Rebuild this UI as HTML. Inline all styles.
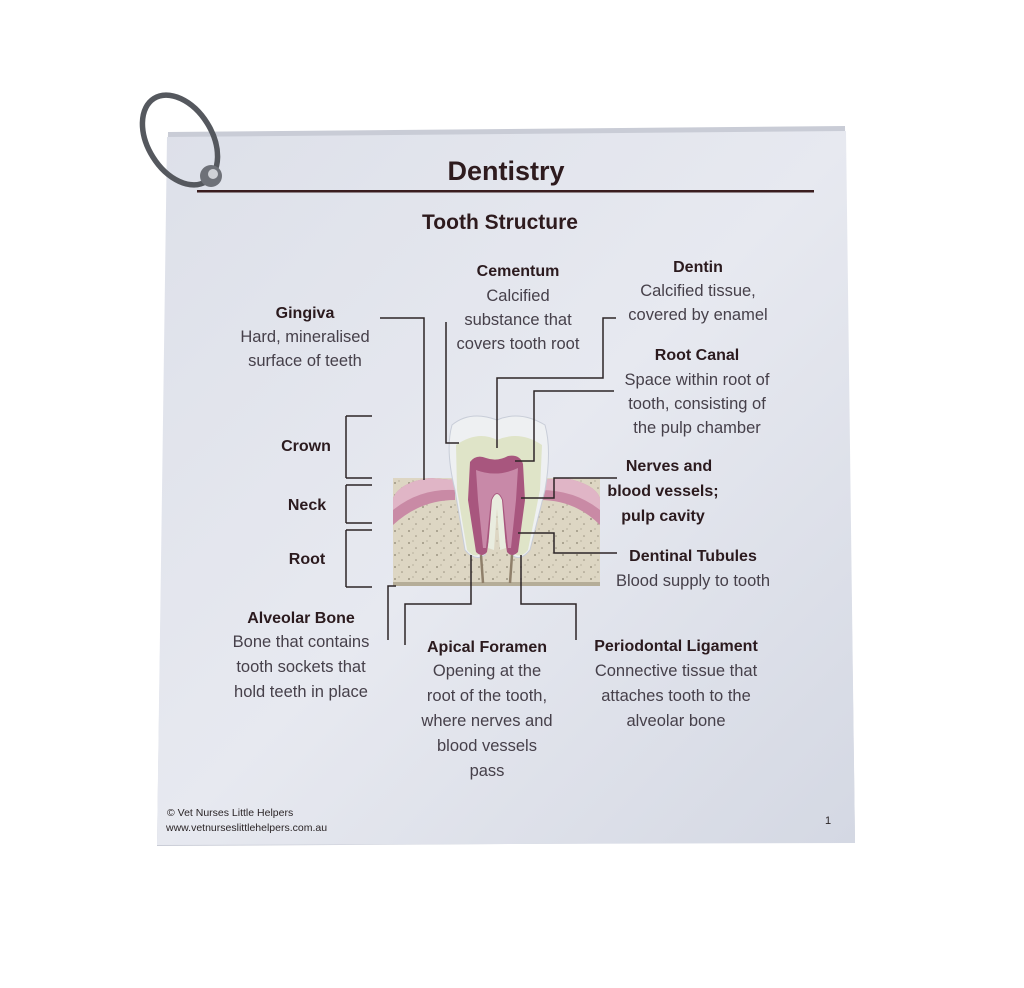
<!DOCTYPE html>
<html><head><meta charset="utf-8"><style>
html,body{margin:0;padding:0;background:#fff;width:1024px;height:988px;overflow:hidden}
svg{display:block}
text{font-family:"Liberation Sans",sans-serif}
.b{font-weight:bold;fill:#2b1a1e;font-size:16px}
.t{fill:#46404a;font-size:16.5px}
</style></head><body>
<svg width="1024" height="988" viewBox="0 0 1024 988">
<defs>
<linearGradient id="cg" x1="0" y1="0" x2="1" y2="1">
<stop offset="0" stop-color="#dde0e9"/><stop offset="0.5" stop-color="#e7e9f0"/><stop offset="1" stop-color="#d4d8e3"/>
</linearGradient>
<pattern id="dots" width="14" height="12" patternUnits="userSpaceOnUse">
<rect width="14" height="12" fill="#ddd6c3"/>
<circle cx="3" cy="3" r="0.9" fill="#8a8270"/><circle cx="10" cy="8" r="0.8" fill="#9a9280"/><circle cx="7" cy="1" r="0.6" fill="#a09885"/>
</pattern>
</defs>
<polygon points="168,132 845,126 855,842 157,846" fill="#c9ccd6"/>
<polygon points="167,137 846,131 855,843 157,845" fill="url(#cg)"/>
<ellipse cx="180" cy="140" rx="32" ry="49" transform="rotate(-32 180 140)" fill="none" stroke="#55585e" stroke-width="5.5"/>
<circle cx="211" cy="176" r="11" fill="#6e7178"/>
<circle cx="213" cy="174" r="5" fill="#cfd1d6"/>
<text x="506" y="180" text-anchor="middle" style="font-weight:bold;font-size:27px;fill:#2e1b1e">Dentistry</text>
<rect x="197" y="190" width="617" height="2.5" fill="#3a1d1f"/>
<text x="500" y="229" text-anchor="middle" style="font-weight:bold;font-size:21px;fill:#2e1b1e">Tooth Structure</text>

<rect x="393" y="478" width="207" height="108" fill="url(#dots)"/>
<path d="M393,498 Q400,482 430,478 L455,480 L455,500 Q420,500 393,525 Z" fill="#c98aa5"/>
<path d="M393,498 Q400,482 430,478 L455,480 L455,490 Q420,488 393,510 Z" fill="#e0b5c6"/>
<path d="M540,480 L565,478 Q595,484 600,498 L600,525 Q575,500 540,500 Z" fill="#c98aa5"/>
<path d="M540,480 L565,478 Q595,484 600,498 L600,510 Q575,490 540,490 Z" fill="#e0b5c6"/>
<rect x="393" y="582" width="207" height="4" fill="#b5ad98"/>
<path d="M452,425 Q470,410 497,420 Q520,410 545,425 Q552,450 545,490 L530,550 Q520,562 512,555 L497,500 L485,555 Q475,562 465,550 L455,490 Q445,450 452,425 Z" fill="#eef0f2" stroke="#c8cdd8"/>
<path d="M456,445 Q478,430 497,440 Q520,430 542,445 L540,490 L528,550 Q520,560 512,552 L497,505 L482,552 Q475,560 467,550 L457,490 Z" fill="#dfe4c8"/>
<path d="M470,462 Q476,454 486,458 Q497,462 508,456 Q520,454 523,464 L525,500 L518,552 Q512,558 507,552 L500,505 Q497,494 494,505 L487,552 Q482,558 476,552 L468,500 Z" fill="#a8567e"/>
<path d="M476,470 Q497,478 518,468 L516,500 L511,548 L508,548 L503,500 Q497,486 491,500 L486,548 L483,548 L478,500 Z" fill="#c889a8"/>
<path d="M492,500 Q497,488 502,500 L506,548 L500,550 L497,508 L494,550 L488,548 Z" fill="#e9ecdf"/>
<line x1="481" y1="555" x2="483" y2="583" stroke="#8f7f6a" stroke-width="2.5"/>
<line x1="512" y1="555" x2="510" y2="583" stroke="#8f7f6a" stroke-width="2.5"/>

<g fill="none" stroke="#2d2527" stroke-width="1.5">
<polyline points="380,318 424,318 424,480"/>
<polyline points="446,322 446,443 459,443"/>
<polyline points="616,318 603,318 603,378 497,378 497,448"/>
<polyline points="614,391 534,391 534,461 515,461"/>
<polyline points="617,478 554,478 554,498 521,498"/>
<polyline points="617,553 554,553 554,533 518,533"/>
<polyline points="471,555 471,604 405,604 405,645"/>
<polyline points="521,555 521,604 576,604 576,640"/>
<polyline points="396,586 388,586 388,640"/>
<polyline points="346,416 372,416"/><polyline points="346,478 372,478"/><line x1="346" y1="416" x2="346" y2="478"/>
<polyline points="346,485 372,485"/><polyline points="346,523 372,523"/><line x1="346" y1="485" x2="346" y2="523"/>
<polyline points="346,530 372,530"/><polyline points="346,587 372,587"/><line x1="346" y1="530" x2="346" y2="587"/>
</g>

<g text-anchor="middle">
<text class="b" x="518" y="276">Cementum</text>
<text class="t" x="518" y="301">Calcified</text>
<text class="t" x="518" y="325">substance that</text>
<text class="t" x="518" y="349">covers tooth root</text>
<text class="b" x="698" y="272">Dentin</text>
<text class="t" x="698" y="296">Calcified tissue,</text>
<text class="t" x="698" y="320">covered by enamel</text>
<text class="b" x="305" y="318">Gingiva</text>
<text class="t" x="305" y="342">Hard, mineralised</text>
<text class="t" x="305" y="366">surface of teeth</text>
<text class="b" x="697" y="360">Root Canal</text>
<text class="t" x="697" y="385">Space within root of</text>
<text class="t" x="697" y="409">tooth, consisting of</text>
<text class="t" x="697" y="433">the pulp chamber</text>
<text class="b" x="306" y="451">Crown</text>
<text class="b" x="307" y="510">Neck</text>
<text class="b" x="307" y="564">Root</text>
<text class="b" x="669" y="471">Nerves and</text>
<text class="b" x="663" y="496">blood vessels;</text>
<text class="b" x="663" y="521">pulp cavity</text>
<text class="b" x="693" y="561">Dentinal Tubules</text>
<text class="t" x="693" y="586">Blood supply to tooth</text>
<text class="b" x="301" y="623">Alveolar Bone</text>
<text class="t" x="301" y="647">Bone that contains</text>
<text class="t" x="301" y="672">tooth sockets that</text>
<text class="t" x="301" y="697">hold teeth in place</text>
<text class="b" x="487" y="652">Apical Foramen</text>
<text class="t" x="487" y="676">Opening at the</text>
<text class="t" x="487" y="701">root of the tooth,</text>
<text class="t" x="487" y="726">where nerves and</text>
<text class="t" x="487" y="751">blood vessels</text>
<text class="t" x="487" y="776">pass</text>
<text class="b" x="676" y="651">Periodontal Ligament</text>
<text class="t" x="676" y="676">Connective tissue that</text>
<text class="t" x="676" y="701">attaches tooth to the</text>
<text class="t" x="676" y="726">alveolar bone</text>
</g>
<text x="167" y="816" style="font-size:10.5px;fill:#2b2527">© Vet Nurses Little Helpers</text>
<text x="166" y="831" style="font-size:10.5px;fill:#2b2527">www.vetnurseslittlehelpers.com.au</text>
<text x="825" y="824" style="font-size:11px;fill:#2b2527">1</text>
</svg>
</body></html>
